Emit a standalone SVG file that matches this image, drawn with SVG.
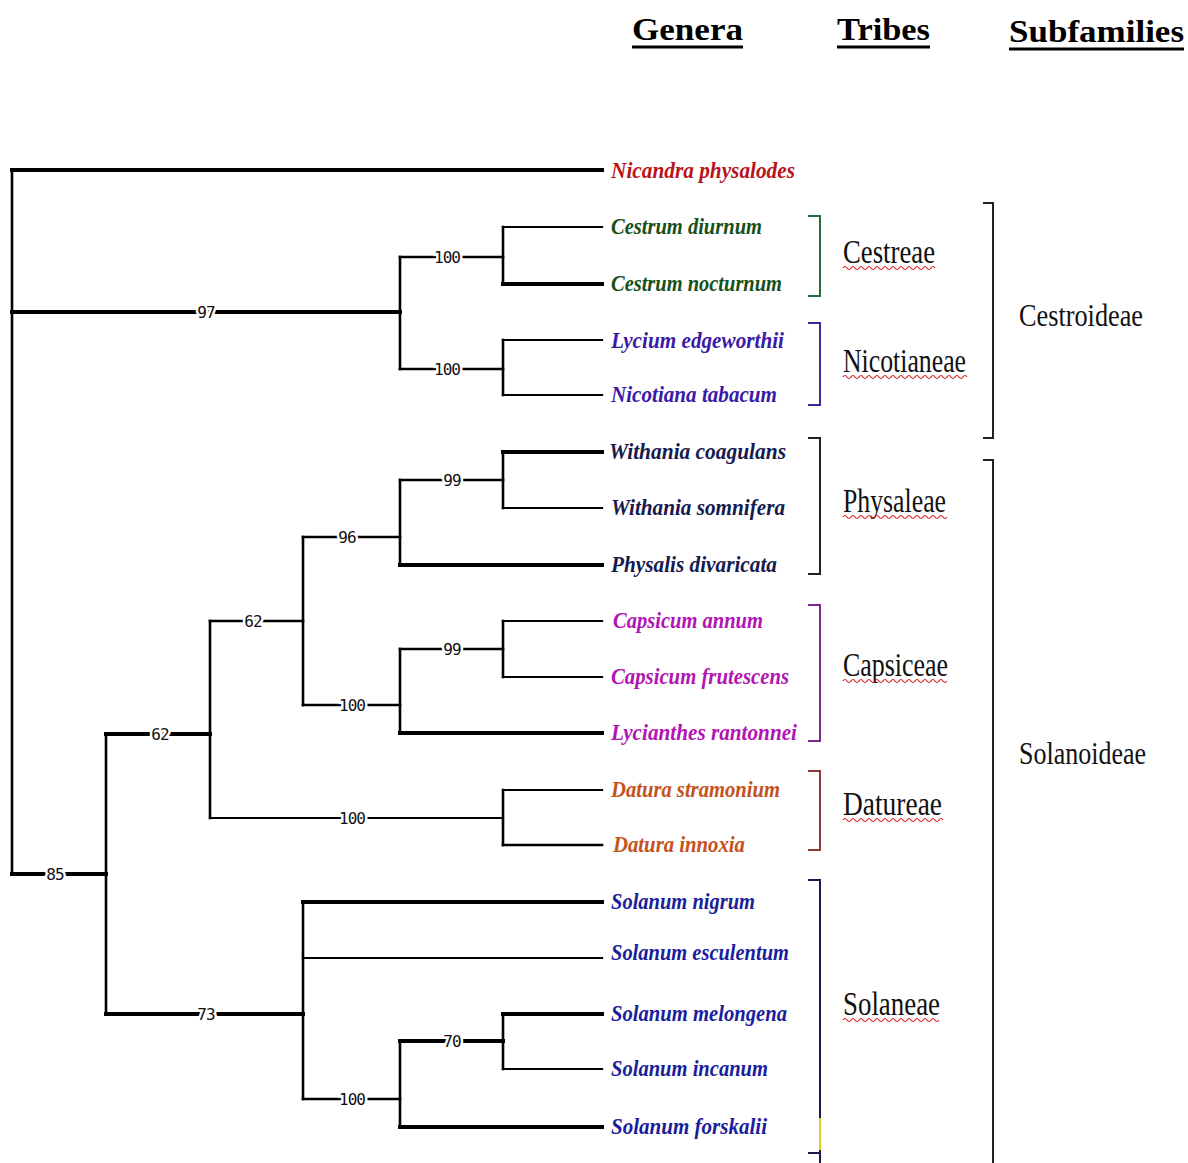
<svg xmlns="http://www.w3.org/2000/svg" width="1188" height="1163" viewBox="0 0 1188 1163">
<defs>
<style>
.br{fill:none;stroke:#000;stroke-width:2.6;stroke-linecap:square}
.tk{stroke-width:4}
.tn{stroke-width:2.2}
.bs{font-family:"DejaVu Sans Mono",monospace;font-size:16px;fill:#111;text-anchor:middle;stroke:#fff;stroke-width:5px;paint-order:stroke;letter-spacing:-1px}
.leaf{font-family:"Liberation Serif",serif;font-style:italic;font-weight:bold;font-size:23px}
.tribe{font-family:"Liberation Serif",serif;font-size:33px;fill:#111}
.sub{font-family:"Liberation Serif",serif;font-size:32px;fill:#111}
.hd{font-family:"Liberation Serif",serif;font-weight:bold;font-size:31px;fill:#000}
.ul{stroke:#000;stroke-width:3}
.tb{fill:none;stroke-width:2;stroke-linejoin:miter}
.sq{fill:none;stroke:#d42020;stroke-width:1.2}
</style>
</defs>
<rect width="1188" height="1163" fill="#fff"/>

<g id="headers">
<text class="hd" x="632" y="40" textLength="111" lengthAdjust="spacingAndGlyphs">Genera</text>
<line class="ul" x1="632" y1="47" x2="743" y2="47"/>
<text class="hd" x="837" y="40" textLength="93" lengthAdjust="spacingAndGlyphs">Tribes</text>
<line class="ul" x1="837" y1="47" x2="930" y2="47"/>
<text class="hd" x="1009" y="42" textLength="175" lengthAdjust="spacingAndGlyphs">Subfamilies</text>
<line class="ul" x1="1009" y1="49" x2="1184" y2="49"/>
</g>

<g id="connectors">
<path class="br" d="M12,170 V874"/>
<path class="br tk" d="M12,170 H602"/>
<path class="br tk" d="M12,312 H400"/>
<path class="br" d="M400,257 V369"/>
<path class="br" d="M400,257 H503"/>
<path class="br" d="M503,227 V284"/>
<path class="br tn" d="M503,227 H602"/>
<path class="br tk" d="M503,284 H602"/>
<path class="br" d="M400,369 H503"/>
<path class="br" d="M503,340 V395"/>
<path class="br tn" d="M503,340 H602"/>
<path class="br tn" d="M503,395 H602"/>
<path class="br tk" d="M12,874 H106"/>
<path class="br" d="M106,734 V1014"/>
<path class="br tk" d="M106,734 H210"/>
<path class="br" d="M210,621 V818"/>
<path class="br" d="M210,621 H303"/>
<path class="br" d="M303,537 V705"/>
<path class="br" d="M303,537 H400"/>
<path class="br" d="M400,480 V565"/>
<path class="br" d="M400,480 H503"/>
<path class="br" d="M503,452 V508"/>
<path class="br tk" d="M503,452 H602"/>
<path class="br tn" d="M503,508 H602"/>
<path class="br tk" d="M400,565 H602"/>
<path class="br" d="M303,705 H400"/>
<path class="br" d="M400,649 V733"/>
<path class="br" d="M400,649 H503"/>
<path class="br" d="M503,621 V677"/>
<path class="br tn" d="M503,621 H602"/>
<path class="br tn" d="M503,677 H602"/>
<path class="br tk" d="M400,733 H602"/>
<path class="br tn" d="M210,818 H503"/>
<path class="br" d="M503,790 V845"/>
<path class="br tn" d="M503,790 H602"/>
<path class="br" d="M503,845 H602"/>
<path class="br tk" d="M106,1014 H303"/>
<path class="br" d="M303,902 V1099"/>
<path class="br tk" d="M303,902 H602"/>
<path class="br tn" d="M303,958 H602"/>
<path class="br" d="M303,1099 H400"/>
<path class="br" d="M400,1041 V1127"/>
<path class="br tk" d="M400,1041 H503"/>
<path class="br" d="M503,1014 V1069"/>
<path class="br tk" d="M503,1014 H602"/>
<path class="br tn" d="M503,1069 H602"/>
<path class="br tk" d="M400,1127 H602"/>
</g>

<g id="bootstrap">
<text class="bs" x="206" y="318">97</text>
<text class="bs" x="447" y="263">100</text>
<text class="bs" x="447" y="375">100</text>
<text class="bs" x="55" y="880">85</text>
<text class="bs" x="160" y="740">62</text>
<text class="bs" x="253" y="627">62</text>
<text class="bs" x="347" y="543">96</text>
<text class="bs" x="452" y="486">99</text>
<text class="bs" x="352" y="711">100</text>
<text class="bs" x="452" y="655">99</text>
<text class="bs" x="352" y="824">100</text>
<text class="bs" x="206" y="1020">73</text>
<text class="bs" x="352" y="1105">100</text>
<text class="bs" x="452" y="1047">70</text>
</g>

<g id="genera">
<text class="leaf" x="611" y="178" fill="#b8141c" textLength="184" lengthAdjust="spacingAndGlyphs">Nicandra physalodes</text>
<text class="leaf" x="611" y="234" fill="#17501a" textLength="151" lengthAdjust="spacingAndGlyphs">Cestrum diurnum</text>
<text class="leaf" x="611" y="291" fill="#17501a" textLength="171" lengthAdjust="spacingAndGlyphs">Cestrum nocturnum</text>
<text class="leaf" x="611" y="348" fill="#3b1aa6" textLength="173" lengthAdjust="spacingAndGlyphs">Lycium edgeworthii</text>
<text class="leaf" x="611" y="402" fill="#3b1aa6" textLength="166" lengthAdjust="spacingAndGlyphs">Nicotiana tabacum</text>
<text class="leaf" x="609" y="459" fill="#161a4e" textLength="177" lengthAdjust="spacingAndGlyphs">Withania coagulans</text>
<text class="leaf" x="611" y="515" fill="#161a4e" textLength="174" lengthAdjust="spacingAndGlyphs">Withania somnifera</text>
<text class="leaf" x="611" y="572" fill="#161a4e" textLength="166" lengthAdjust="spacingAndGlyphs">Physalis divaricata</text>
<text class="leaf" x="613" y="628" fill="#b214b4" textLength="150" lengthAdjust="spacingAndGlyphs">Capsicum annum</text>
<text class="leaf" x="611" y="684" fill="#b214b4" textLength="178" lengthAdjust="spacingAndGlyphs">Capsicum frutescens</text>
<text class="leaf" x="611" y="740" fill="#b214b4" textLength="186" lengthAdjust="spacingAndGlyphs">Lycianthes rantonnei</text>
<text class="leaf" x="611" y="797" fill="#c4521c" textLength="169" lengthAdjust="spacingAndGlyphs">Datura stramonium</text>
<text class="leaf" x="613" y="852" fill="#c4521c" textLength="132" lengthAdjust="spacingAndGlyphs">Datura innoxia</text>
<text class="leaf" x="611" y="909" fill="#1a1e9c" textLength="144" lengthAdjust="spacingAndGlyphs">Solanum nigrum</text>
<text class="leaf" x="611" y="960" fill="#1a1e9c" textLength="178" lengthAdjust="spacingAndGlyphs">Solanum esculentum</text>
<text class="leaf" x="611" y="1021" fill="#1a1e9c" textLength="176" lengthAdjust="spacingAndGlyphs">Solanum melongena</text>
<text class="leaf" x="611" y="1076" fill="#1a1e9c" textLength="157" lengthAdjust="spacingAndGlyphs">Solanum incanum</text>
<text class="leaf" x="611" y="1134" fill="#1a1e9c" textLength="156" lengthAdjust="spacingAndGlyphs">Solanum forskalii</text>
</g>

<g id="tribes">
<g id="cestreae">
<path class="tb" stroke="#2a6a3a" d="M808,216 H820 V296 H808"/>
<text class="tribe" x="843" y="263" textLength="92" lengthAdjust="spacingAndGlyphs">Cestreae</text>
<path class="sq" d="M843,268 q2,-3 4,0 t4,0 t4,0 t4,0 t4,0 t4,0 t4,0 t4,0 t4,0 t4,0 t4,0 t4,0 t4,0 t4,0 t4,0 t4,0 t4,0 t4,0 t4,0 t4,0 t4,0 t4,0 t4,0"/>
</g>
<g id="nicotianeae">
<path class="tb" stroke="#3a2aa0" d="M808,323 H820 V405 H808"/>
<text class="tribe" x="843" y="372" textLength="123" lengthAdjust="spacingAndGlyphs">Nicotianeae</text>
<path class="sq" d="M843,377 q2,-3 4,0 t4,0 t4,0 t4,0 t4,0 t4,0 t4,0 t4,0 t4,0 t4,0 t4,0 t4,0 t4,0 t4,0 t4,0 t4,0 t4,0 t4,0 t4,0 t4,0 t4,0 t4,0 t4,0 t4,0 t4,0 t4,0 t4,0 t4,0 t4,0 t4,0 t4,0"/>
</g>
<g id="physaleae">
<path class="tb" stroke="#222" d="M808,438 H820 V574 H808"/>
<text class="tribe" x="843" y="512" textLength="103" lengthAdjust="spacingAndGlyphs">Physaleae</text>
<path class="sq" d="M843,517 q2,-3 4,0 t4,0 t4,0 t4,0 t4,0 t4,0 t4,0 t4,0 t4,0 t4,0 t4,0 t4,0 t4,0 t4,0 t4,0 t4,0 t4,0 t4,0 t4,0 t4,0 t4,0 t4,0 t4,0 t4,0 t4,0 t4,0"/>
</g>
<g id="capsiceae">
<path class="tb" stroke="#7a2a8c" d="M808,605 H820 V741 H808"/>
<text class="tribe" x="843" y="676" fill="#3a1a7a" textLength="105" lengthAdjust="spacingAndGlyphs">Capsiceae</text>
<path class="sq" d="M843,681 q2,-3 4,0 t4,0 t4,0 t4,0 t4,0 t4,0 t4,0 t4,0 t4,0 t4,0 t4,0 t4,0 t4,0 t4,0 t4,0 t4,0 t4,0 t4,0 t4,0 t4,0 t4,0 t4,0 t4,0 t4,0 t4,0 t4,0"/>
</g>
<g id="datureae">
<path class="tb" stroke="#8a3a3a" d="M808,771 H820 V850 H808"/>
<text class="tribe" x="843" y="815" fill="#5a1a1a" textLength="99" lengthAdjust="spacingAndGlyphs">Datureae</text>
<path class="sq" d="M843,820 q2,-3 4,0 t4,0 t4,0 t4,0 t4,0 t4,0 t4,0 t4,0 t4,0 t4,0 t4,0 t4,0 t4,0 t4,0 t4,0 t4,0 t4,0 t4,0 t4,0 t4,0 t4,0 t4,0 t4,0 t4,0 t4,0"/>
</g>
<g id="solaneae">
<path class="tb" stroke="#1a1a4a" d="M808,880 H820 V1163"/>
<path class="tb" stroke="#1a1a4a" d="M808,1153 H820"/>
<path fill="none" stroke="#d8d020" stroke-width="2" d="M820,1118 V1150"/>
<text class="tribe" x="843" y="1015" fill="#141a4a" textLength="97" lengthAdjust="spacingAndGlyphs">Solaneae</text>
<path class="sq" d="M843,1020 q2,-3 4,0 t4,0 t4,0 t4,0 t4,0 t4,0 t4,0 t4,0 t4,0 t4,0 t4,0 t4,0 t4,0 t4,0 t4,0 t4,0 t4,0 t4,0 t4,0 t4,0 t4,0 t4,0 t4,0 t4,0"/>
</g>
</g>

<g id="subfamilies">
<g id="cestroideae">
<path class="tb" stroke="#222" stroke-width="2.4" d="M983,203 H993 V438 H983"/>
<text class="sub" x="1019" y="326" textLength="124" lengthAdjust="spacingAndGlyphs">Cestroideae</text>
</g>
<g id="solanoideae">
<path class="tb" stroke="#222" stroke-width="2.4" d="M983,460 H993 V1163"/>
<text class="sub" x="1019" y="764" textLength="127" lengthAdjust="spacingAndGlyphs">Solanoideae</text>
</g>
</g>
</svg>
